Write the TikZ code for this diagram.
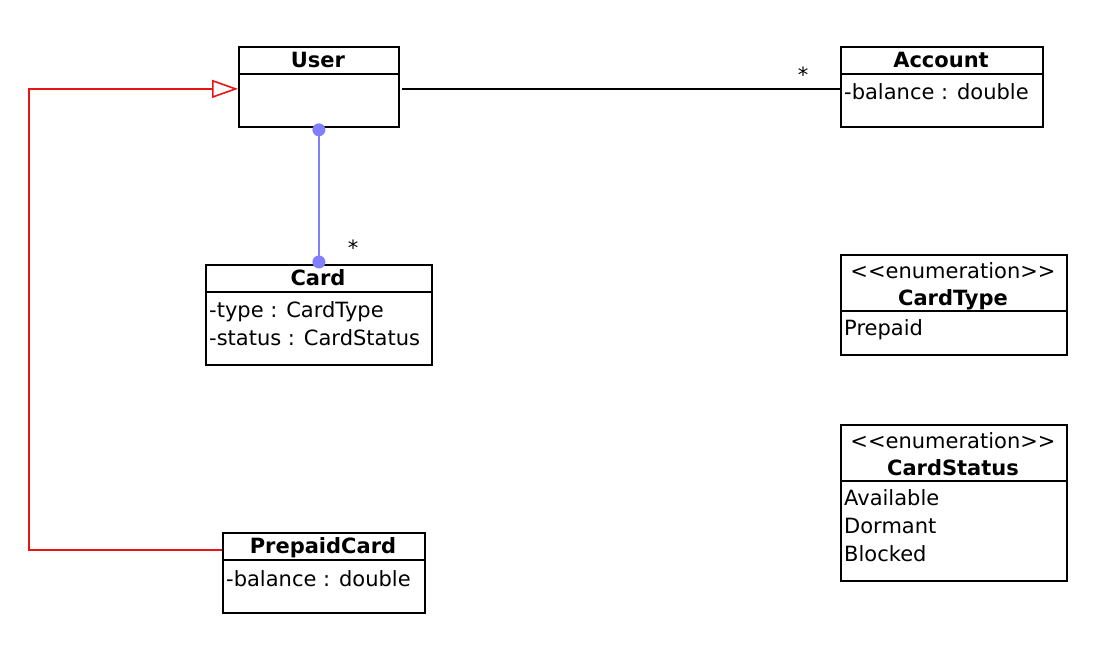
\documentclass[tikz,border=0pt]{standalone}
\usepackage{fontspec}
\setmainfont{DejaVu Sans}
\usepackage{tikz}
\usetikzlibrary{arrows.meta}

\definecolor{assoc}{RGB}{128,128,255}
\definecolor{genred}{RGB}{235,20,20}

\begin{document}
\begin{tikzpicture}[x=1pt, y=-1pt, font=\fontsize{21}{28}\selectfont,
    cls/.style={draw, line width=1.8pt, anchor=north west, inner sep=0pt},
    ttl/.style={anchor=base, inner sep=0pt, font=\fontsize{21}{28}\selectfont\bfseries},
    stereo/.style={anchor=base, inner sep=0pt},
    attr/.style={anchor=base west, inner sep=0pt},
    mult/.style={anchor=base, inner sep=0pt},
    gen/.style={draw=genred, line width=1.6pt, -{Triangle[open, length=26pt, width=18pt]}}]
    \useasboundingbox (0,0) rectangle (1104,662);

    % classes
    \node[cls, minimum width=160pt, minimum height=80pt] (user) at (238,46) {};
    \node[cls, minimum width=202pt, minimum height=80pt] (account) at (840,46) {};
    \node[cls, minimum width=226pt, minimum height=100pt] (card) at (205,264) {};
    \node[cls, minimum width=202pt, minimum height=80pt] (prepaid) at (222,532) {};
    \node[cls, minimum width=226pt, minimum height=100pt] (cardtype) at (840,254) {};
    \node[cls, minimum width=226pt, minimum height=156pt] (cardstatus) at (840,424) {};

    \foreach \n/\d in {user/28, account/28, card/28, prepaid/28, cardtype/57, cardstatus/57}
        \draw[line width=1.6pt] ([yshift=-\d pt]\n.north west) -- ([yshift=-\d pt]\n.north east);

    \node[ttl] (usert) at (318,67) {User};
    \node[ttl] (accountt) at (941,67) {Account};
    \node[attr] (accounta) at (844,99) {-balance : double};
    \node[ttl] (cardt) at (318,285) {Card};
    \node[attr] (carda) at (209,317) {-type : CardType};
    \node[attr] (cardb) at (209,345) {-status : CardStatus};
    \node[ttl] (prepaidt) at (323,553) {PrepaidCard};
    \node[attr] (prepaida) at (226,586) {-balance : double};
    \node[stereo] (cardtypes) at (953,278) {<{}<enumeration>{}>};
    \node[ttl] (cardtypet) at (953,305) {CardType};
    \node[attr] (cardtypea) at (844,335) {Prepaid};
    \node[stereo] (cardstatuss) at (953,448) {<{}<enumeration>{}>};
    \node[ttl] (cardstatust) at (953,475) {CardStatus};
    \node[attr] (cardstatusa) at (844,505) {Available};
    \node[attr] (cardstatusb) at (844,533) {Dormant};
    \node[attr] (cardstatusc) at (844,561) {Blocked};

    % associations
    \draw[line width=1.6pt] ([xshift=2pt, yshift=-2pt]user.east) -- ([yshift=-2pt]account.west);
    \node[mult] (m1) at (803,82) {*};

    \draw[assoc, line width=1.6pt] ([yshift=-2pt]user.south) -- ([yshift=2pt]card.north);
    \fill[assoc] ([yshift=-2pt]user.south) circle (6.5pt);
    \fill[assoc] ([yshift=2pt]card.north) circle (6.5pt);
    \node[mult] (m2) at (353,255) {*};

    % generalization
    \coordinate (pin) at ([yshift=-18pt]prepaid.north west);
    \coordinate (rail) at (29,300);
    \draw[gen] (pin) -| (rail) |- ([yshift=-2pt]user.west);
\end{tikzpicture}
\end{document}
